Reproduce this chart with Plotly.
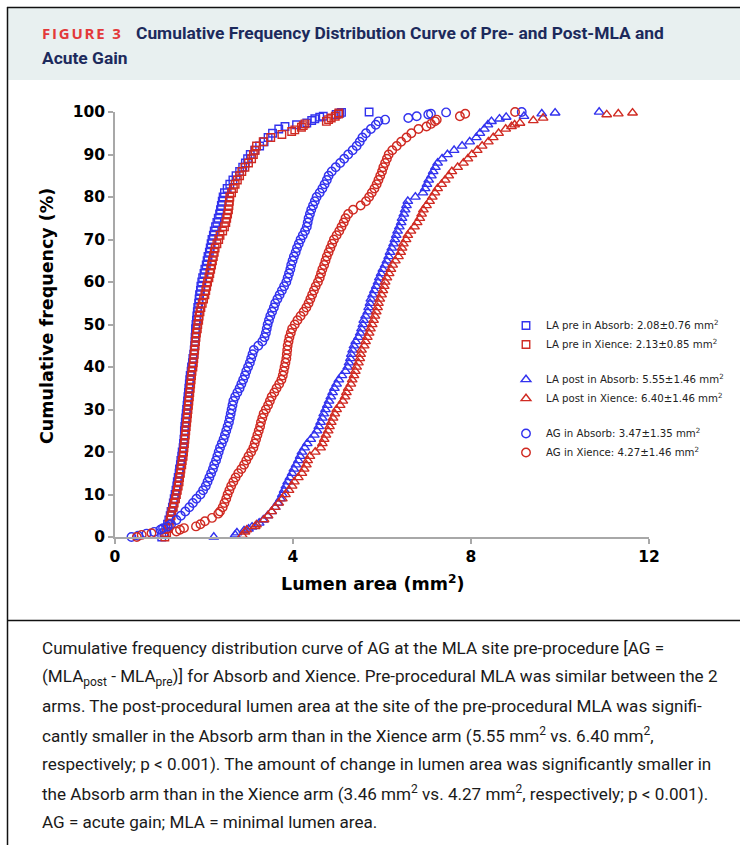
import plotly.graph_objects as go

# ---------------- data (cumulative frequency % vs lumen area mm2) ----------------
PRE_ABS_PCT = [0, 1, 2, 3, 4, 5, 6, 7, 8, 9,
               10, 11, 12, 13, 14, 15, 16, 17, 18, 19,
               20, 21, 22, 23, 24, 25, 26, 27, 28, 29,
               30, 31, 32, 33, 34, 35, 36, 37, 38, 39,
               40, 41, 42, 43, 44, 45, 46, 47, 48, 49,
               50, 51, 52, 53, 54, 55, 56, 57, 58, 59,
               60, 61, 62, 63, 64, 65, 66, 67, 68, 69,
               70, 71, 72, 73, 74, 75, 76, 77, 78, 79,
               80, 81, 82, 83, 84, 85, 86, 87, 88, 89,
               90, 91, 92, 93, 94, 95, 96,
               96.6, 97.0, 97.4, 98.0, 98.4, 98.8, 99.0, 99.4, 99.7, 99.9, 100]
PRE_ABS_AREA = [1.05, 1.10, 1.14, 1.18, 1.21, 1.24, 1.26, 1.29, 1.31, 1.33,
                1.35, 1.37, 1.39, 1.40, 1.42, 1.44, 1.45, 1.47, 1.48, 1.50,
                1.51, 1.53, 1.54, 1.55, 1.56, 1.56, 1.57, 1.58, 1.59, 1.60,
                1.61, 1.62, 1.63, 1.64, 1.65, 1.66, 1.67, 1.68, 1.69, 1.71,
                1.72, 1.74, 1.75, 1.77, 1.78, 1.79, 1.80, 1.80, 1.81, 1.81,
                1.82, 1.83, 1.84, 1.85, 1.86, 1.88, 1.89, 1.90, 1.92, 1.93,
                1.95, 1.97, 2.00, 2.02, 2.05, 2.07, 2.09, 2.12, 2.14, 2.16,
                2.18, 2.21, 2.23, 2.26, 2.29, 2.32, 2.35, 2.37, 2.39, 2.41,
                2.43, 2.46, 2.52, 2.58, 2.65, 2.72, 2.80, 2.87, 2.93, 2.98,
                3.04, 3.14, 3.25, 3.35, 3.44, 3.54, 3.68,
                3.82, 4.08, 4.31, 4.42, 4.49, 4.60, 4.68, 4.97, 5.05, 5.09, 5.71]

PRE_XIE_PCT = [0, 1, 2, 3, 4, 5, 6, 7, 8, 9,
               10, 11, 12, 13, 14, 15, 16, 17, 18, 19,
               20, 21, 22, 23, 24, 25, 26, 27, 28, 29,
               30, 31, 32, 33, 34, 35, 36, 37, 38, 39,
               40, 41, 42, 43, 44, 45, 46, 47, 48, 49,
               50, 51, 52, 53, 54, 55, 56, 57, 58, 59,
               60, 61, 62, 63, 64, 65, 66, 67, 68, 69,
               70, 71, 72, 73, 74, 75, 76, 77, 78, 79,
               80, 81, 82, 83, 84, 85, 86, 87, 88, 89,
               90, 91, 92, 93, 94,
               94.7, 95.4, 95.8, 96.4, 96.8, 97.2, 97.8, 98.2, 98.6, 99.0, 99.5, 99.8]
PRE_XIE_AREA = [1.12, 1.16, 1.19, 1.22, 1.24, 1.26, 1.28, 1.31, 1.33, 1.36,
                1.38, 1.40, 1.42, 1.44, 1.45, 1.47, 1.48, 1.50, 1.51, 1.53,
                1.54, 1.55, 1.56, 1.57, 1.58, 1.59, 1.60, 1.61, 1.62, 1.63,
                1.64, 1.65, 1.66, 1.67, 1.68, 1.69, 1.70, 1.71, 1.72, 1.73,
                1.75, 1.76, 1.77, 1.78, 1.79, 1.80, 1.81, 1.82, 1.83, 1.85,
                1.86, 1.88, 1.89, 1.91, 1.93, 1.96, 1.99, 2.02, 2.04, 2.06,
                2.08, 2.11, 2.13, 2.15, 2.17, 2.19, 2.21, 2.23, 2.25, 2.29,
                2.33, 2.36, 2.42, 2.46, 2.49, 2.51, 2.53, 2.55, 2.56, 2.57,
                2.58, 2.62, 2.66, 2.70, 2.75, 2.80, 2.85, 2.92, 3.00, 3.07,
                3.11, 3.15, 3.18, 3.33, 3.50,
                3.75, 3.97, 4.04, 4.19, 4.23, 4.27, 4.75, 4.80, 4.86, 4.95, 5.02, 5.03]

POST_ABS_PCT = [0, 0.5, 1.0, 1.5, 1.9, 2.4, 3.3,
                4, 5, 6, 7, 8, 9,
                10, 11, 12, 13, 14, 15, 16, 17, 18, 19,
                20, 21, 22, 23, 24, 25, 26, 27, 28, 29,
                30, 31, 32, 33, 34, 35, 36, 37, 38, 39,
                40, 41, 42, 43, 44, 45, 46, 47, 48, 49,
                50, 51, 52, 53, 54, 55, 56, 57, 58, 59,
                60, 61, 62, 63, 64, 65, 66, 67, 68, 69,
                70, 71, 72, 73, 74, 75, 76, 77, 78, 79,
                80, 81, 82, 83, 84, 85, 86, 87, 88, 89,
                90, 91, 92, 93, 94, 95, 96, 97,
                97.8, 98.4, 98.8, 99.0, 99.6, 99.8, 100]
POST_ABS_AREA = [2.22, 2.70, 2.74, 2.90, 3.00, 3.08, 3.24,
                 3.33, 3.43, 3.52, 3.60, 3.66, 3.72,
                 3.76, 3.80, 3.84, 3.88, 3.93, 3.98, 4.02, 4.07, 4.12, 4.16,
                 4.20, 4.26, 4.32, 4.40, 4.48, 4.54, 4.58, 4.62, 4.66, 4.69,
                 4.73, 4.77, 4.81, 4.85, 4.89, 4.93, 4.98, 5.03, 5.10, 5.18,
                 5.23, 5.26, 5.29, 5.31, 5.34, 5.37, 5.41, 5.47, 5.51, 5.54,
                 5.57, 5.59, 5.63, 5.68, 5.70, 5.73, 5.75, 5.79, 5.83, 5.87,
                 5.91, 5.94, 5.98, 6.02, 6.07, 6.11, 6.15, 6.18, 6.22, 6.26,
                 6.29, 6.32, 6.35, 6.39, 6.43, 6.45, 6.49, 6.52, 6.55, 6.58,
                 6.75, 6.92, 6.97, 7.01, 7.05, 7.11, 7.15, 7.20, 7.25, 7.35,
                 7.47, 7.62, 7.80, 7.97, 8.12, 8.20, 8.30, 8.38,
                 8.46, 8.64, 8.79, 9.19, 9.59, 9.89, 10.88]

POST_XIE_PCT = [0.4, 1.2, 1.7, 2.5, 2.9, 4.1,
                5, 6, 7, 8, 9,
                10, 11, 12, 13, 14, 15, 16, 17, 18, 19,
                20, 21, 22, 23, 24, 25, 26, 27, 28, 29,
                30, 31, 32, 33, 34, 35, 36, 37, 38, 39,
                40, 41, 42, 43, 44, 45, 46, 47, 48, 49,
                50, 51, 52, 53, 54, 55, 56, 57, 58, 59,
                60, 61, 62, 63, 64, 65, 66, 67, 68, 69,
                70, 71, 72, 73, 74, 75, 76, 77, 78, 79,
                80, 81, 82, 83, 84, 85, 86, 87, 88, 89,
                90, 91, 92, 93, 94, 95, 96,
                96.6, 97.0, 97.4, 98.0, 98.6, 99.4, 99.6, 99.8]
POST_XIE_AREA = [2.86, 2.92, 2.96, 3.15, 3.18, 3.35,
                 3.44, 3.52, 3.60, 3.68, 3.76,
                 3.83, 3.91, 3.98, 4.03, 4.12, 4.20, 4.25, 4.30, 4.33, 4.38,
                 4.50, 4.62, 4.66, 4.70, 4.74, 4.79, 4.82, 4.86, 4.90, 4.94,
                 4.98, 5.06, 5.12, 5.17, 5.20, 5.24, 5.30, 5.33, 5.37, 5.40,
                 5.43, 5.47, 5.50, 5.52, 5.54, 5.60, 5.63, 5.67, 5.71, 5.74,
                 5.78, 5.81, 5.84, 5.87, 5.90, 5.92, 5.95, 5.99, 6.02, 6.05,
                 6.07, 6.11, 6.16, 6.20, 6.24, 6.30, 6.37, 6.42, 6.45, 6.48,
                 6.54, 6.58, 6.65, 6.73, 6.79, 6.85, 6.89, 6.93, 7.00, 7.07,
                 7.13, 7.19, 7.25, 7.34, 7.42, 7.50, 7.57, 7.70, 7.83, 7.93,
                 8.02, 8.14, 8.25, 8.39, 8.50, 8.62, 8.78,
                 8.91, 8.98, 9.10, 9.40, 9.62, 11.05, 11.31, 11.63]

AG_ABS_PCT = [0, 0.3, 0.8, 1.2, 1.7, 2.1, 2.5,
              3, 4, 5, 6, 7, 8, 9,
              10, 11, 12, 13, 14, 15, 16, 17, 18, 19,
              20, 21, 22, 23, 24, 25, 26, 27, 28, 29,
              30, 31, 32, 33, 34, 35, 36, 37, 38, 39,
              40, 41, 42, 43, 44, 45, 46, 47, 48, 49,
              50, 51, 52, 53, 54, 55, 56, 57, 58, 59,
              60, 61, 62, 63, 64, 65, 66, 67, 68, 69,
              70, 71, 72, 73, 74, 75, 76, 77, 78, 79,
              80, 81, 82, 83, 84, 85, 86, 87, 88, 89,
              90, 91, 92, 93, 94, 95, 96, 97,
              97.8, 98.2, 98.6, 99.0, 99.4, 99.6, 99.9, 100]
AG_ABS_AREA = [0.37, 0.52, 0.71, 0.88, 1.02, 1.08, 1.18,
               1.26, 1.38, 1.48, 1.58, 1.67, 1.75, 1.83,
               1.92, 1.98, 2.04, 2.08, 2.12, 2.16, 2.20, 2.23, 2.27, 2.30,
               2.33, 2.36, 2.40, 2.44, 2.47, 2.50, 2.53, 2.56, 2.58, 2.60,
               2.62, 2.64, 2.66, 2.70, 2.75, 2.80, 2.84, 2.88, 2.92, 2.95,
               2.99, 3.03, 3.06, 3.09, 3.12, 3.22, 3.31, 3.36, 3.39, 3.41,
               3.43, 3.46, 3.49, 3.53, 3.57, 3.60, 3.65, 3.70, 3.75, 3.80,
               3.85, 3.88, 3.91, 3.94, 3.96, 3.99, 4.02, 4.06, 4.09, 4.13,
               4.17, 4.22, 4.27, 4.31, 4.33, 4.35, 4.38, 4.41, 4.45, 4.49,
               4.53, 4.60, 4.66, 4.71, 4.76, 4.80, 4.87, 4.96, 5.06, 5.15,
               5.24, 5.34, 5.43, 5.50, 5.56, 5.64, 5.75, 5.86,
               5.92, 6.07, 6.59, 6.78, 7.04, 7.10, 7.44, 9.14]

AG_XIE_PCT = [0, 0.5, 0.9, 1.3, 1.7, 2.1, 2.5, 3.0, 3.7, 4.5, 5.5,
              6, 7, 8, 9,
              10, 11, 12, 13, 14, 15, 16, 17, 18, 19,
              20, 21, 22, 23, 24, 25, 26, 27, 28, 29,
              30, 31, 32, 33, 34, 35, 36, 37, 38, 39,
              40, 41, 42, 43, 44, 45, 46, 47, 48, 49,
              50, 51, 52, 53, 54, 55, 56, 57, 58, 59,
              60, 61, 62, 63, 64, 65, 66, 67, 68, 69,
              70, 71, 72, 73, 74, 75, 76, 77, 78, 79,
              80, 81, 82, 83, 84, 85, 86, 87, 88, 89,
              90, 91, 92, 93, 94, 95, 96,
              96.6, 97.2, 97.8, 98.2, 99.0, 99.6, 100]
AG_XIE_AREA = [0.49, 0.60, 0.82, 1.38, 1.46, 1.55, 1.82, 1.92, 2.02, 2.18, 2.32,
               2.36, 2.42, 2.46, 2.50,
               2.53, 2.57, 2.61, 2.66, 2.71, 2.77, 2.84, 2.90, 2.95, 3.00,
               3.06, 3.11, 3.14, 3.17, 3.20, 3.23, 3.26, 3.28, 3.31, 3.34,
               3.39, 3.44, 3.48, 3.52, 3.58, 3.63, 3.69, 3.74, 3.77, 3.79,
               3.81, 3.83, 3.85, 3.86, 3.87, 3.88, 3.90, 3.92, 3.95, 3.98,
               4.04, 4.10, 4.17, 4.24, 4.30, 4.35, 4.39, 4.43, 4.47, 4.51,
               4.56, 4.60, 4.63, 4.66, 4.70, 4.73, 4.76, 4.80, 4.84, 4.88,
               4.92, 4.98, 5.04, 5.09, 5.14, 5.18, 5.24, 5.35, 5.52, 5.64,
               5.71, 5.77, 5.83, 5.88, 5.92, 5.96, 6.00, 6.03, 6.07, 6.11,
               6.15, 6.23, 6.33, 6.43, 6.55, 6.66, 6.82,
               7.00, 7.10, 7.19, 7.23, 7.75, 7.87, 8.99]

SERIES_NAMES = ["LA pre in Absorb: 2.08±0.76 mm<sup>2</sup>",
                "LA pre in Xience: 2.13±0.85 mm<sup>2</sup>",
                "LA post in Absorb: 5.55±1.46 mm<sup>2</sup>",
                "LA post in Xience: 6.40±1.46 mm<sup>2</sup>",
                "AG in Absorb: 3.47±1.35 mm<sup>2</sup>",
                "AG in Xience: 4.27±1.46 mm<sup>2</sup>"]
X_TICKS = [0, 4, 8, 12]
Y_TICKS = [0, 10, 20, 30, 40, 50, 60, 70, 80, 90, 100]
X_TITLE = "Lumen area (mm<sup>2</sup>)"
Y_TITLE = "Cumulative frequency (%)"

TITLE_LABEL = "FIGURE 3"
TITLE_LINE1 = "Cumulative Frequency Distribution Curve of Pre- and Post-MLA and"
TITLE_LINE2 = "Acute Gain"
CAPTION_LINES = [
    "Cumulative frequency distribution curve of AG at the MLA site pre-procedure [AG =",
    "(MLA<sub>post</sub> - MLA<sub>pre</sub>)] for Absorb and Xience. Pre-procedural MLA was similar between the 2",
    "arms. The post-procedural lumen area at the site of the pre-procedural MLA was signifi-",
    "cantly smaller in the Absorb arm than in the Xience arm (5.55 mm<sup>2</sup> vs. 6.40 mm<sup>2</sup>,",
    "respectively; p < 0.001). The amount of change in lumen area was significantly smaller in",
    "the Absorb arm than in the Xience arm (3.46 mm<sup>2</sup> vs. 4.27 mm<sup>2</sup>, respectively; p < 0.001).",
    "AG = acute gain; MLA = minimal lumen area.",
]

# ---------------- styling ----------------
BLUE = "#3232ee"
RED = "#d02a22"
AXIS_GREY = "#a8a8a8"
W, H = 740, 845
ML, MR, MT, MB = 115, 91, 112, 308
PW, PH = W - ML - MR, H - MT - MB


def PX(px):
    return (px - ML) / PW


def PY(py):
    return (H - MB - py) / PH


series = [
    (SERIES_NAMES[0], PRE_ABS_PCT, PRE_ABS_AREA, "square-open", BLUE, "pre", 7.5),
    (SERIES_NAMES[1], PRE_XIE_PCT, PRE_XIE_AREA, "square-open", RED, "pre", 7.5),
    (SERIES_NAMES[2], POST_ABS_PCT, POST_ABS_AREA, "triangle-up-open", BLUE, "post", 8.5),
    (SERIES_NAMES[3], POST_XIE_PCT, POST_XIE_AREA, "triangle-up-open", RED, "post", 8.5),
    (SERIES_NAMES[4], AG_ABS_PCT, AG_ABS_AREA, "circle-open", BLUE, "ag", 8.5),
    (SERIES_NAMES[5], AG_XIE_PCT, AG_XIE_AREA, "circle-open", RED, "ag", 8.5),
]

fig = go.Figure()
for name, pct, area, sym, col, grp, sz in series:
    assert len(pct) == len(area), name
    fig.add_trace(go.Scatter(
        x=area, y=pct, mode="markers", name=name, legendgroup=grp,
        cliponaxis=False,
        marker=dict(symbol=sym, size=sz, color=col, line=dict(width=1.4, color=col)),
    ))

tick_font = dict(family="DejaVu Sans", size=15.5, color="black", weight="bold")
title_font = dict(family="DejaVu Sans", size=17.5, color="black", weight="bold")

fig.update_layout(
    width=W, height=H,
    margin=dict(l=ML, r=MR, t=MT, b=MB, autoexpand=False),
    paper_bgcolor="white", plot_bgcolor="white",
    showlegend=True,
    legend=dict(x=PX(506), y=PY(311), xanchor="left", yanchor="top",
                font=dict(family="DejaVu Sans", size=10.2, color="#222222"),
                tracegroupgap=16, bgcolor="rgba(0,0,0,0)", borderwidth=0,
                traceorder="grouped"),
    xaxis=dict(range=[0, 12], tickvals=X_TICKS, showline=True, linecolor=AXIS_GREY,
               linewidth=1.5, ticks="outside", ticklen=5, tickcolor=AXIS_GREY,
               tickwidth=1.5, showgrid=False, zeroline=False, tickfont=tick_font,
               automargin=False),
    yaxis=dict(range=[0, 100], tickvals=Y_TICKS, showline=True, linecolor=AXIS_GREY,
               linewidth=1.5, ticks="outside", ticklen=5, tickcolor=AXIS_GREY,
               tickwidth=1.5, showgrid=False, zeroline=False, tickfont=tick_font,
               automargin=False),
)

# frame, header panel, separator
shapes = [
    dict(type="rect", xref="paper", yref="paper", x0=PX(8), x1=PX(740), y0=PY(80), y1=PY(8),
         fillcolor="#e8f0f0", line=dict(width=0), layer="below"),
    dict(type="line", xref="paper", yref="paper", x0=PX(7), x1=PX(740), y0=PY(7.5), y1=PY(7.5),
         line=dict(color="#111111", width=1.5)),
    dict(type="line", xref="paper", yref="paper", x0=PX(7.5), x1=PX(7.5), y0=PY(7), y1=PY(845),
         line=dict(color="#111111", width=1.5)),
    dict(type="line", xref="paper", yref="paper", x0=PX(7), x1=PX(740), y0=PY(620.5), y1=PY(620.5),
         line=dict(color="#111111", width=1.5)),
]
fig.update_layout(shapes=shapes)

annotations = [
    dict(text=X_TITLE, x=PX(372), y=PY(583), xanchor="center", yanchor="middle",
         showarrow=False, xref="paper", yref="paper", font=title_font),
    dict(text=Y_TITLE, x=PX(47), y=PY(316), xanchor="center", yanchor="middle", textangle=-90,
         showarrow=False, xref="paper", yref="paper", font=title_font),
    dict(text="<b><span style='letter-spacing:1.8px'>" + TITLE_LABEL + "</span></b>",
         x=PX(40), y=PY(33), xanchor="left", yanchor="middle", showarrow=False,
         xref="paper", yref="paper",
         font=dict(family="Open Sans", size=15, color="#e3393a")),
    dict(text="<b>" + TITLE_LINE1 + "</b>", x=PX(134), y=PY(33), xanchor="left", yanchor="middle",
         showarrow=False, xref="paper", yref="paper",
         font=dict(family="Roboto", size=17.4, color="#1c2a5c")),
    dict(text="<b>" + TITLE_LINE2 + "</b>", x=PX(40), y=PY(58), xanchor="left", yanchor="middle",
         showarrow=False, xref="paper", yref="paper",
         font=dict(family="Roboto", size=17.4, color="#1c2a5c")),
]
for i, line in enumerate(CAPTION_LINES):
    annotations.append(dict(text=line, x=PX(40), y=PY(648 + 29 * i), xanchor="left", yanchor="middle",
                            showarrow=False, xref="paper", yref="paper",
                            font=dict(family="Roboto", size=17.1, color="#1a1a1a")))
fig.update_layout(annotations=annotations)

fig.write_html("out.html", config={"displayModeBar": False},
               post_script="document.body.style.margin='0';")
